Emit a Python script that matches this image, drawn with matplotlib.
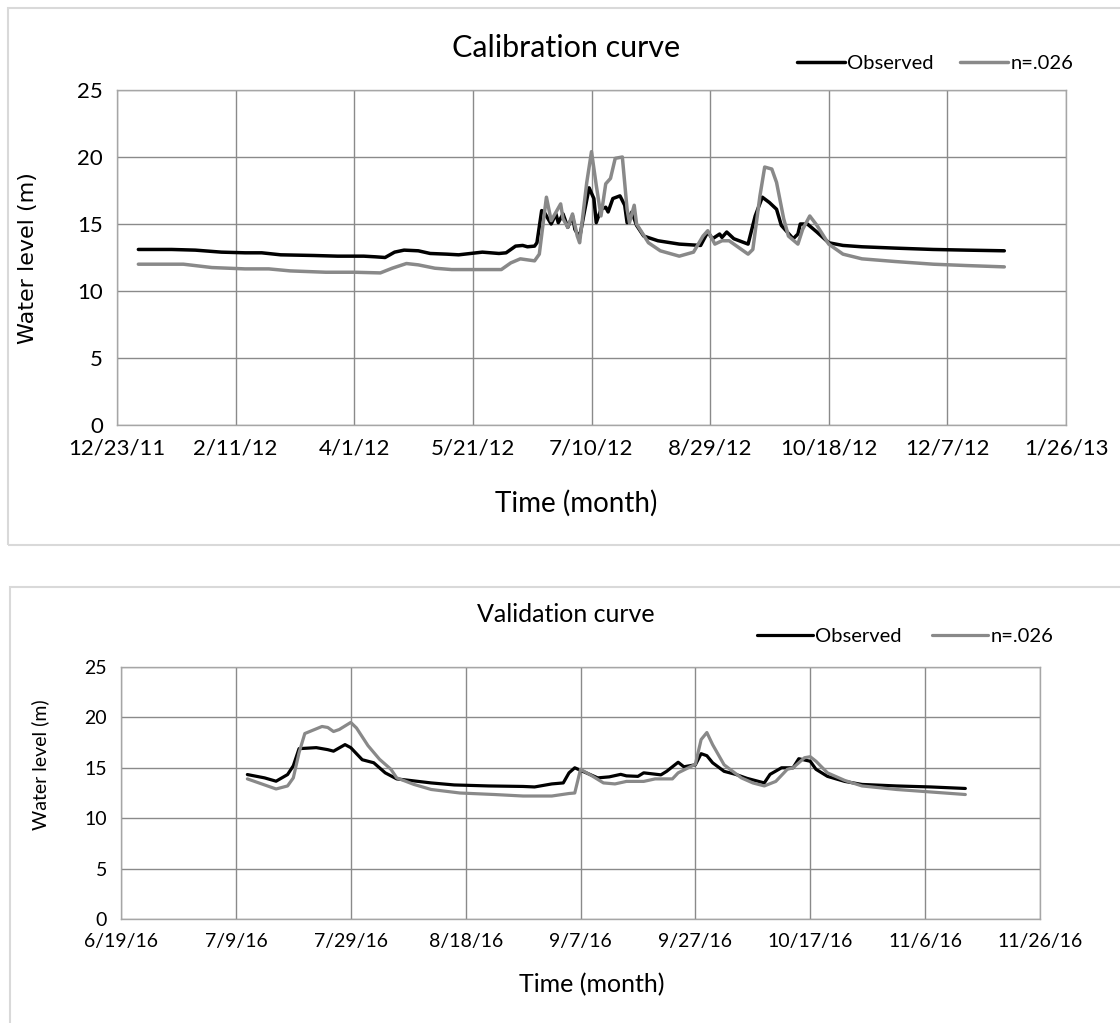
import matplotlib
matplotlib.use("Agg")
import matplotlib.pyplot as plt
import pandas as pd
from matplotlib.patches import Rectangle

# ---------------- Calibration (2012) ----------------
cal_obs_dates = ["2012-01-01", "2012-01-15", "2012-01-25", "2012-02-05", "2012-02-15", "2012-02-22",
                 "2012-03-01", "2012-03-15", "2012-03-25", "2012-04-05", "2012-04-10", "2012-04-14",
                 "2012-04-18", "2012-04-22", "2012-04-28", "2012-05-03", "2012-05-10", "2012-05-15",
                 "2012-05-20", "2012-05-25", "2012-06-01", "2012-06-04", "2012-06-08", "2012-06-11",
                 "2012-06-13", "2012-06-16", "2012-06-17", "2012-06-19", "2012-06-20", "2012-06-23",
                 "2012-06-25", "2012-06-26", "2012-06-28", "2012-06-30", "2012-07-02", "2012-07-03",
                 "2012-07-05", "2012-07-07", "2012-07-09", "2012-07-11", "2012-07-12", "2012-07-14",
                 "2012-07-16", "2012-07-17", "2012-07-19", "2012-07-22", "2012-07-24", "2012-07-25",
                 "2012-07-27", "2012-07-29", "2012-08-01", "2012-08-07", "2012-08-16", "2012-08-25",
                 "2012-08-28", "2012-08-30", "2012-09-02", "2012-09-03", "2012-09-05", "2012-09-08",
                 "2012-09-14", "2012-09-17", "2012-09-20", "2012-09-23", "2012-09-26", "2012-09-28",
                 "2012-10-03", "2012-10-05", "2012-10-06", "2012-10-09", "2012-10-13", "2012-10-18",
                 "2012-10-24", "2012-11-01", "2012-11-15", "2012-12-01", "2012-12-15", "2012-12-31"]
cal_obs_vals = [13.1, 13.1, 13.05, 12.9, 12.85, 12.85,
                12.7, 12.65, 12.6, 12.6, 12.55, 12.5,
                12.9, 13.05, 13.0, 12.8, 12.75, 12.7,
                12.8, 12.9, 12.8, 12.85, 13.35, 13.4,
                13.3, 13.35, 13.6, 16.0, 15.9, 15.0,
                15.75, 15.1, 15.75, 14.75, 15.6, 14.6,
                14.0, 15.9, 17.7, 16.9, 15.1, 16.1,
                16.25, 15.9, 16.9, 17.1, 16.4, 15.1,
                15.9, 14.9, 14.1, 13.75, 13.5, 13.4,
                14.4, 13.9, 14.25, 14.0, 14.4, 13.9,
                13.5, 15.6, 17.0, 16.6, 16.1, 14.9,
                13.9, 14.25, 15.0, 15.0, 14.4, 13.6,
                13.4, 13.3, 13.2, 13.1, 13.05, 13.0]

cal_sim_dates = ["2012-01-01", "2012-01-20", "2012-02-01", "2012-02-15", "2012-02-25", "2012-03-05",
                 "2012-03-20", "2012-04-01", "2012-04-12", "2012-04-17", "2012-04-23", "2012-04-28",
                 "2012-05-05", "2012-05-12", "2012-05-25", "2012-06-02", "2012-06-06", "2012-06-10",
                 "2012-06-16", "2012-06-18", "2012-06-20", "2012-06-21", "2012-06-23", "2012-06-27",
                 "2012-06-28", "2012-06-30", "2012-07-02", "2012-07-04", "2012-07-05", "2012-07-08",
                 "2012-07-10", "2012-07-12", "2012-07-14", "2012-07-16", "2012-07-18", "2012-07-20",
                 "2012-07-23", "2012-07-25", "2012-07-26", "2012-07-28", "2012-07-29", "2012-08-03",
                 "2012-08-08", "2012-08-16", "2012-08-22", "2012-08-26", "2012-08-28", "2012-08-31",
                 "2012-09-03", "2012-09-06", "2012-09-10", "2012-09-14", "2012-09-16", "2012-09-19",
                 "2012-09-21", "2012-09-24", "2012-09-26", "2012-09-29", "2012-10-01", "2012-10-05",
                 "2012-10-07", "2012-10-10", "2012-10-13", "2012-10-18", "2012-10-24", "2012-11-01",
                 "2012-11-15", "2012-12-01", "2012-12-15", "2012-12-31"]
cal_sim_vals = [12.0, 12.0, 11.75, 11.65, 11.65, 11.5,
                11.4, 11.4, 11.35, 11.7, 12.05, 11.95,
                11.7, 11.6, 11.6, 11.6, 12.1, 12.4,
                12.25, 12.75, 15.6, 17.0, 15.25, 16.5,
                15.4, 14.75, 15.75, 14.1, 13.6, 18.1,
                20.4, 17.9, 15.6, 18.0, 18.4, 19.9,
                20.0, 16.1, 15.1, 16.4, 15.0, 13.6,
                13.0, 12.6, 12.9, 14.1, 14.5, 13.5,
                13.75, 13.75, 13.25, 12.75, 13.1, 17.1,
                19.25, 19.1, 18.1, 15.4, 14.1, 13.5,
                14.6, 15.6, 14.9, 13.5, 12.75, 12.4,
                12.2, 12.0, 11.9, 11.8]

cal_tick_dates = ["2011-12-23", "2012-02-11", "2012-04-01", "2012-05-21", "2012-07-10",
                  "2012-08-29", "2012-10-18", "2012-12-07", "2013-01-26"]
cal_tick_labels = ["12/23/11", "2/11/12", "4/1/12", "5/21/12", "7/10/12",
                   "8/29/12", "10/18/12", "12/7/12", "1/26/13"]

# ---------------- Validation (2016) ----------------
val_obs_dates = ["2016-07-11", "2016-07-14", "2016-07-16", "2016-07-18", "2016-07-19", "2016-07-20",
                 "2016-07-23", "2016-07-25", "2016-07-26", "2016-07-28", "2016-07-29", "2016-07-31",
                 "2016-08-02", "2016-08-04", "2016-08-06", "2016-08-09", "2016-08-12", "2016-08-16",
                 "2016-08-22", "2016-08-28", "2016-08-30", "2016-09-02", "2016-09-04", "2016-09-05",
                 "2016-09-06", "2016-09-08", "2016-09-10", "2016-09-12", "2016-09-14", "2016-09-15",
                 "2016-09-17", "2016-09-18", "2016-09-21", "2016-09-22", "2016-09-24", "2016-09-25",
                 "2016-09-27", "2016-09-28", "2016-09-29", "2016-09-30", "2016-10-02", "2016-10-04",
                 "2016-10-06", "2016-10-09", "2016-10-10", "2016-10-12", "2016-10-14", "2016-10-15",
                 "2016-10-17", "2016-10-18", "2016-10-20", "2016-10-23", "2016-10-26", "2016-11-01",
                 "2016-11-07", "2016-11-13"]
val_obs_vals = [14.33, 14.0, 13.67, 14.33, 15.2, 16.9,
                17.0, 16.8, 16.65, 17.3, 17.0, 15.8,
                15.5, 14.5, 13.9, 13.7, 13.5, 13.3,
                13.2, 13.15, 13.1, 13.4, 13.5, 14.5,
                15.0, 14.5, 14.0, 14.1, 14.35, 14.2,
                14.15, 14.5, 14.3, 14.65, 15.55, 15.1,
                15.3, 16.4, 16.2, 15.5, 14.65, 14.35,
                13.95, 13.5, 14.35, 15.0, 15.0, 15.9,
                15.65, 14.85, 14.15, 13.65, 13.35, 13.2,
                13.1, 12.95]

val_sim_dates = ["2016-07-11", "2016-07-14", "2016-07-16", "2016-07-18", "2016-07-19", "2016-07-20",
                 "2016-07-21", "2016-07-24", "2016-07-25", "2016-07-26", "2016-07-27", "2016-07-29",
                 "2016-07-30", "2016-08-01", "2016-08-03", "2016-08-05", "2016-08-06", "2016-08-09",
                 "2016-08-12", "2016-08-17", "2016-08-23", "2016-08-28", "2016-09-02", "2016-09-05",
                 "2016-09-06", "2016-09-07", "2016-09-09", "2016-09-11", "2016-09-13", "2016-09-15",
                 "2016-09-18", "2016-09-20", "2016-09-23", "2016-09-24", "2016-09-27", "2016-09-28",
                 "2016-09-29", "2016-09-30", "2016-10-02", "2016-10-05", "2016-10-07", "2016-10-09",
                 "2016-10-11", "2016-10-13", "2016-10-14", "2016-10-16", "2016-10-17", "2016-10-18",
                 "2016-10-20", "2016-10-23", "2016-10-26", "2016-11-01", "2016-11-07", "2016-11-13"]
val_sim_vals = [13.9, 13.3, 12.9, 13.2, 14.0, 16.5,
                18.4, 19.1, 19.0, 18.6, 18.8, 19.5,
                18.95, 17.2, 15.85, 14.85, 14.0, 13.35,
                12.85, 12.5, 12.35, 12.2, 12.2, 12.45,
                12.5, 14.85, 14.2, 13.5, 13.4, 13.65,
                13.65, 13.9, 13.9, 14.5, 15.35, 17.8,
                18.5, 17.3, 15.3, 14.0, 13.5, 13.2,
                13.65, 14.85, 15.0, 16.0, 16.1, 15.65,
                14.5, 13.75, 13.2, 12.85, 12.6, 12.35]

val_tick_dates = ["2016-06-19", "2016-07-09", "2016-07-29", "2016-08-18", "2016-09-07",
                  "2016-09-27", "2016-10-17", "2016-11-06", "2016-11-26"]
val_tick_labels = ["6/19/16", "7/9/16", "7/29/16", "8/18/16", "9/7/16",
                   "9/27/16", "10/17/16", "11/6/16", "11/26/16"]

yticks = [0, 5, 10, 15, 20, 25]
series_labels = ["Observed", "n=.026"]

OBS_COLOR = "#000000"
SIM_COLOR = "#898989"
GRID_COLOR = "#8a8a8a"
FONT = ["Lato", "DejaVu Sans"]

fig = plt.figure(figsize=(11.2, 10.23), dpi=100)
W, H = 1120, 1023

def fx(px):
    return px / W

def fy(py):
    return 1 - py / H

# outer panel boxes
fig.patches.append(Rectangle((fx(8), fy(545)), fx(1120) - fx(8) + 0.01, fy(8) - fy(545),
                             transform=fig.transFigure, fill=False, edgecolor="#d9d9d9", lw=1.5))
fig.patches.append(Rectangle((fx(10), fy(1030)), fx(1120) - fx(10) + 0.01, fy(587) - fy(1030),
                             transform=fig.transFigure, fill=False, edgecolor="#d9d9d9", lw=1.5))


def setup(ax, tick_dates, tick_labels, xlim, tick_fs):
    td = pd.to_datetime(tick_dates)
    ax.set_xlim(pd.to_datetime(xlim[0]), pd.to_datetime(xlim[1]))
    ax.set_ylim(0, 25)
    ax.set_xticks(td)
    ax.set_xticklabels(tick_labels, fontfamily=FONT, fontsize=tick_fs)
    ax.set_yticks(yticks)
    ax.set_yticklabels([str(v) for v in yticks], fontfamily=FONT, fontsize=tick_fs)
    ax.grid(True, color=GRID_COLOR, lw=1.0)
    ax.set_axisbelow(True)
    for s in ax.spines.values():
        s.set_color("#a6a6a6")
        s.set_linewidth(1.0)
    ax.tick_params(length=0, pad=10)


line_kw = dict(solid_joinstyle="round", solid_capstyle="round")

# ---- top ----
ax1 = fig.add_axes([fx(117), fy(425), fx(1066) - fx(117), fy(90) - fy(425)])
setup(ax1, cal_tick_dates, cal_tick_labels, (cal_tick_dates[0], cal_tick_dates[-1]), 16)
ax1.plot(pd.to_datetime(cal_obs_dates), cal_obs_vals, color=OBS_COLOR, lw=2.5,
         label=series_labels[0], **line_kw)
ax1.plot(pd.to_datetime(cal_sim_dates), cal_sim_vals, color=SIM_COLOR, lw=2.5,
         label=series_labels[1], **line_kw)
fig.text(fx(566), fy(48), "Calibration curve", ha="center", va="center", fontsize=22, fontfamily=FONT)
fig.text(fx(576), fy(503), "Time (month)", ha="center", va="center", fontsize=20, fontfamily=FONT)
fig.text(fx(28), fy(258), "Water level (m)", ha="center", va="center", rotation=90,
         fontsize=16, fontfamily=["DejaVu Sans"])
ax1.legend(loc="center", bbox_to_anchor=(0.862, 1.08), ncol=2, frameon=False,
           prop={"family": FONT, "size": 14.5}, handlelength=2.4, handletextpad=0.1,
           columnspacing=1.3)

# ---- bottom ----
ax2 = fig.add_axes([fx(121), fy(919), fx(1040) - fx(121), fy(667) - fy(919)])
setup(ax2, val_tick_dates, val_tick_labels, (val_tick_dates[0], val_tick_dates[-1]), 14)
ax2.plot(pd.to_datetime(val_obs_dates), val_obs_vals, color=OBS_COLOR, lw=2.3,
         label=series_labels[0], **line_kw)
ax2.plot(pd.to_datetime(val_sim_dates), val_sim_vals, color=SIM_COLOR, lw=2.3,
         label=series_labels[1], **line_kw)
fig.text(fx(566), fy(614), "Validation curve", ha="center", va="center", fontsize=18, fontfamily=FONT)
fig.text(fx(592), fy(985), "Time (month)", ha="center", va="center", fontsize=18, fontfamily=FONT)
fig.text(fx(40), fy(765), "Water level (m)", ha="center", va="center", rotation=90,
         fontsize=14, fontfamily=FONT)
ax2.legend(loc="center", bbox_to_anchor=(0.853, 1.123), ncol=2, frameon=False,
           prop={"family": FONT, "size": 14.5}, handlelength=2.8, handletextpad=0.1,
           columnspacing=1.5)

fig.savefig("out.png", dpi=100)
